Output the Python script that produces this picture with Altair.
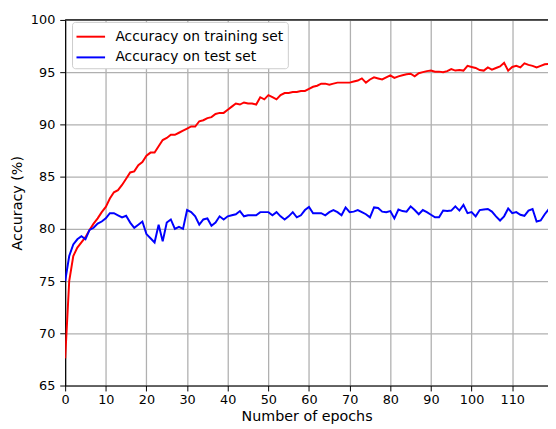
import altair as alt
import pandas as pd

epochs = list(range(0, 120))

train_acc = [
    67.6, 75.0, 77.4, 78.2, 78.7, 79.2, 79.9, 80.5, 81.0, 81.6,
    82.1, 82.9, 83.5, 83.7, 84.2, 84.8, 85.4, 85.5, 86.1, 86.4,
    87.0, 87.3, 87.3, 87.9, 88.5, 88.7, 89.0, 89.0, 89.2, 89.4,
    89.6, 89.8, 89.8, 90.3, 90.4, 90.6, 90.7, 91.0, 91.1, 91.1,
    91.4, 91.7, 92.0, 91.9, 92.1, 92.0, 92.0, 91.9, 92.6, 92.4,
    92.8, 92.6, 92.4, 92.8, 93.0, 93.0, 93.1, 93.1, 93.2, 93.2,
    93.4, 93.6, 93.7, 93.9, 93.9, 93.8, 93.9, 94.0, 94.0, 94.0,
    94.0, 94.1, 94.2, 94.4, 94.0, 94.3, 94.5, 94.4, 94.3, 94.5,
    94.7, 94.45, 94.6, 94.7, 94.8, 94.85, 94.6, 94.9, 95.0, 95.1,
    95.15, 95.05, 95.05, 95.0, 95.1, 95.3, 95.15, 95.2, 95.15, 95.6,
    95.5, 95.4, 95.2, 95.15, 95.45, 95.25, 95.4, 95.55, 95.9, 95.15,
    95.5, 95.6, 95.45, 95.85, 95.7, 95.6, 95.45, 95.6, 95.75, 95.8,
]

test_acc = [
    75.0, 77.4, 78.5, 79.0, 79.3, 79.0, 79.9, 80.1, 80.5, 80.7,
    81.0, 81.5, 81.5, 81.3, 81.1, 81.25, 80.6, 80.1, 80.4, 80.7,
    79.5, 79.1, 78.7, 80.4, 78.8, 80.6, 80.9, 80.0, 80.2, 80.0,
    81.8, 81.6, 81.2, 80.4, 80.9, 81.0, 80.3, 80.6, 81.2, 80.9,
    81.2, 81.3, 81.4, 81.7, 81.2, 81.3, 81.3, 81.3, 81.6, 81.6,
    81.6, 81.3, 81.6, 81.2, 80.9, 81.2, 81.6, 81.1, 81.3, 81.8,
    82.1, 81.5, 81.5, 81.5, 81.3, 81.6, 81.8, 81.6, 81.3, 82.05,
    81.6, 81.65, 81.8, 81.6, 81.4, 81.1, 82.05, 82.0, 81.65, 81.6,
    81.7, 81.0, 81.85, 81.7, 81.65, 82.15, 81.8, 81.4, 81.8, 81.6,
    81.35, 81.1, 81.1, 81.75, 81.7, 81.75, 82.15, 81.75, 82.3, 81.5,
    81.6, 81.2, 81.8, 81.85, 81.9, 81.65, 81.2, 80.8, 81.2, 81.95,
    81.5, 81.6, 81.35, 81.25, 81.75, 81.9, 80.7, 80.8, 81.4, 81.9,
]

series_names = ["Accuracy on training set", "Accuracy on test set"]
series_colors = ["#ff0000", "#0000ff"]
x_ticks = list(range(0, 120, 10))
y_ticks = [65, 70, 75, 80, 85, 90, 95, 100]

df = pd.concat([
    pd.DataFrame({"epoch": epochs, "acc": train_acc, "series": series_names[0]}),
    pd.DataFrame({"epoch": epochs, "acc": test_acc, "series": series_names[1]}),
])

FONT = "DejaVu Sans"
W, H = 490, 371

x_enc = alt.X("epoch:Q", scale=alt.Scale(domain=[0, 118.8], nice=False, zero=False),
              axis=alt.Axis(values=x_ticks, title="Number of epochs", grid=True,
                            labelFontSize=13, titleFontSize=14.5, labelColor="#000000",
                            titleColor="#000000", titleFontWeight="normal",
                            tickColor="#000000", domainColor="#000000", domainWidth=1.2,
                            tickWidth=1, tickSize=5.5, labelPadding=3, titlePadding=3,
                            gridColor="#b0b0b0", gridWidth=1.3, labelFont=FONT, titleFont=FONT,
                            labelFlush=False))
y_enc = alt.Y("acc:Q", scale=alt.Scale(domain=[65, 100], nice=False, zero=False),
              axis=alt.Axis(values=y_ticks, title="Accuracy (%)", grid=True,
                            labelFontSize=13, titleFontSize=14.5, labelColor="#000000",
                            titleColor="#000000", titleFontWeight="normal",
                            tickColor="#000000", domainColor="#000000", domainWidth=1.2,
                            tickWidth=1, tickSize=5.5, labelPadding=5, titlePadding=6,
                            gridColor="#b0b0b0", gridWidth=1.3, labelFont=FONT, titleFont=FONT,
                            labelFlush=False))

lines = alt.Chart(df).mark_line(strokeWidth=2, clip=True).encode(
    x=x_enc,
    y=y_enc,
    color=alt.Color("series:N",
                    scale=alt.Scale(domain=series_names, range=series_colors),
                    sort=series_names,
                    legend=alt.Legend(title=None, orient="none", legendX=7, legendY=2,
                                      fillColor="#ffffff", strokeColor="#cccccc",
                                      cornerRadius=3, padding=4,
                                      symbolType="M-1.45,0L1.45,0", symbolSize=400,
                                      symbolOffset=4, symbolStrokeWidth=2,
                                      labelFontSize=14, labelFont=FONT, labelColor="#000000",
                                      labelOffset=14, rowPadding=3, labelLimit=0)),
    order="epoch:Q",
)

top_spine = alt.Chart(pd.DataFrame({"y": [100]})).mark_rule(color="#000000", strokeWidth=1.2).encode(
    y=alt.Y("y:Q", scale=alt.Scale(domain=[65, 100], nice=False, zero=False)),
    x=alt.value(0),
    x2=alt.value(W),
)

chart = alt.layer(lines, top_spine).properties(
    width=W, height=H,
    autosize=alt.AutoSizeParams(type="none"),
    padding={"left": 58, "top": 9, "right": 0, "bottom": 41},
).configure_view(stroke=None).configure(font=FONT)

chart.save("out.html", embed_options={"renderer": "svg", "actions": False})
